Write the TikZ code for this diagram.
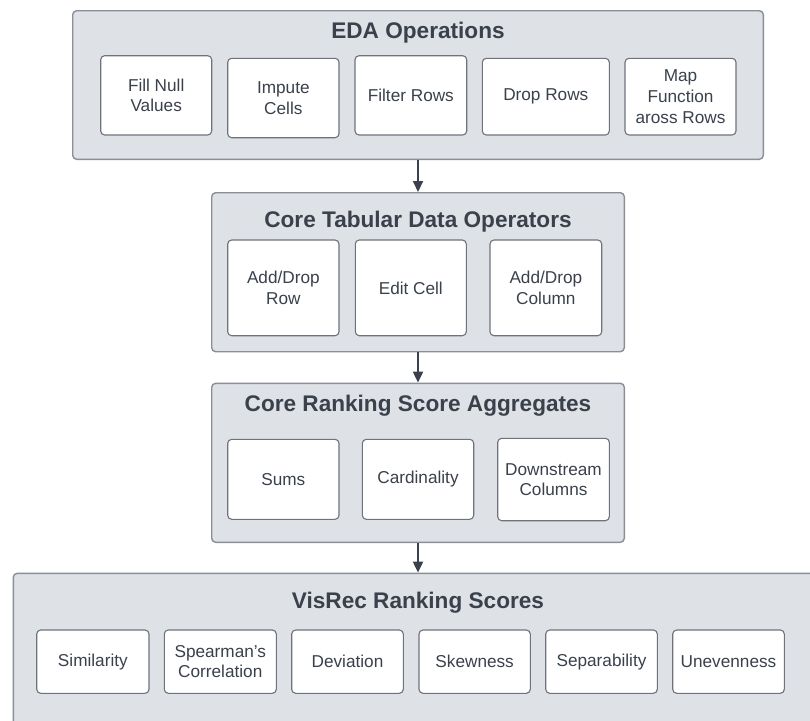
\documentclass[tikz,border=0pt]{standalone}
\usepackage{fontspec}
\setmainfont{Liberation Sans}
\usetikzlibrary{arrows.meta}
\definecolor{panelfill}{HTML}{DEE1E6}
\definecolor{paneledge}{HTML}{8A8F97}
\definecolor{boxedge}{HTML}{6E737B}
\definecolor{ink}{HTML}{3A414B}
\tikzset{
  panel/.style={draw=paneledge, fill=panelfill, line width=1.4pt, rounded corners=4pt, inner sep=0pt},
  item/.style={draw=boxedge, fill=white, line width=1.1pt, rounded corners=4pt, inner sep=0pt,
    text=ink, align=center, font=\fontsize{17.2}{20.6}\selectfont},
  heading/.style={text=ink, font=\fontsize{22.6}{26}\selectfont\bfseries, inner sep=0pt},
  flow/.style={draw=ink, line width=2pt, -{Triangle[length=11pt,width=10pt]}}
}
% pbox: name, x1, y1, x2, y2 (pixel-style coordinates, y growing downward), style, text
\newcommand{\pbox}[7]{%
  \node[#6, minimum width={(#4-#2)*1pt}, minimum height={(#5-#3)*1pt}]
    (#1) at ({(#2+#4)/2}, {(#3+#5)/2}) {#7};}
\begin{document}
\begin{tikzpicture}[x=1pt, y=-1pt]
\useasboundingbox (0,0) rectangle (810,720);
\begin{scope}
\clip (0,0) rectangle (810,720);

% EDA operations
\pbox{eda}{72.7}{10.7}{763.3}{159.3}{panel}{}
\node[heading] (edaT) at (418,33) {EDA Operations};
\pbox{fill}{100.7}{55.7}{211.7}{135}{item}{Fill Null\\Values}
\pbox{imp}{227.7}{58.3}{339}{137.7}{item}{Impute\\Cells}
\pbox{filt}{355}{55.7}{466.7}{135}{item}{Filter Rows}
\pbox{drop}{482.3}{58.3}{609.3}{135}{item}{Drop Rows}
\pbox{map}{625}{58.3}{736}{135}{item}{Map\\Function\\aross Rows}

% core tabular operators
\pbox{tab}{211.7}{192.7}{624.3}{351.7}{panel}{}
\node[heading] (tabT) at (418,221.5) {Core Tabular Data Operators};
\pbox{adr}{227.7}{240}{339}{335.7}{item}{Add/Drop\\Row}
\pbox{edit}{355.3}{240}{466.3}{335.7}{item}{Edit Cell}
\pbox{adc}{490}{240}{601.7}{335.7}{item}{Add/Drop\\Column}

% ranking aggregates
\pbox{agg}{211.7}{383.3}{624.3}{542.3}{panel}{}
\node[heading] (aggT) at (418,406) {Core Ranking Score Aggregates};
\pbox{sums}{227.7}{439.3}{339}{519.3}{item}{Sums}
\pbox{card}{362.3}{439.3}{473.7}{519.3}{item}{Cardinality}
\pbox{down}{497.7}{438.3}{609.3}{520.7}{item}{Downstream\\Columns}

% VisRec scores (runs past the page edge)
\pbox{vis}{13.3}{573.3}{840}{760}{panel}{}
\node[heading] (visT) at (418,602.7) {VisRec Ranking Scores};
\pbox{sim}{36.7}{630}{149}{693.3}{item}{Similarity}
\pbox{spe}{164.3}{630}{276.3}{693.3}{item}{Spearman's\\Correlation}
\pbox{dev}{291.7}{630}{403.3}{693.3}{item}{Deviation}
\pbox{skw}{419}{630}{530.3}{693.3}{item}{Skewness}
\pbox{sep}{545.7}{630}{657.3}{693.3}{item}{Separability}
\pbox{unv}{672.7}{630}{784.3}{693.3}{item}{Unevenness}

% flow between stages
\draw[flow] (eda.south) -- (tab.north);
\draw[flow] (tab.south) -- (agg.north);
\draw[flow] (agg.south) -- (agg.south |- vis.north);
\end{scope}
\end{tikzpicture}
\end{document}
